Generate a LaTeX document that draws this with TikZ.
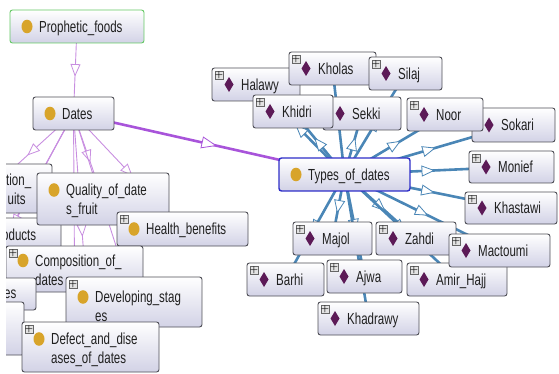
\documentclass[tikz,border=0pt]{standalone}
\usepackage{fontspec}
\newfontfamily\lblfont{Liberation Sans}[FakeStretch=0.72]
\usetikzlibrary{fit,decorations.markings}

\pgfdeclarelayer{edges}
\pgfsetlayers{edges,main}

\definecolor{boxline}{RGB}{78,78,86}
\definecolor{boxlow}{RGB}{210,210,230}
\definecolor{edgeblue}{RGB}{74,134,182}
\definecolor{edgepurple}{RGB}{168,84,218}
\definecolor{edgelilac}{RGB}{200,142,224}
\definecolor{gold}{RGB}{216,164,42}
\definecolor{plum}{RGB}{92,26,87}
\definecolor{selblue}{RGB}{46,46,200}
\definecolor{rootgreen}{RGB}{100,200,100}
\definecolor{labelink}{RGB}{32,32,32}

\tikzset{
  ontoextra/.style={},
  nodebox/.style={draw=boxline, line width=0.9pt, rounded corners=2.5pt,
    top color=white, bottom color=boxlow, inner sep=0pt, ontoextra},
  lbl/.style={anchor=base west, inner sep=0pt, text=labelink,
    font=\lblfont\fontsize{16}{19}\selectfont},
  plusbox/.style={draw=gray!80!black, fill=gray!22, minimum size=8pt,
    inner sep=0pt, font=\fontsize{9}{9}\selectfont\bfseries, text=black},
  isa/.style n args={3}{postaction={decorate},
    decoration={markings, mark=at position 0.5 with
      {\draw[draw=#1, fill=white, line width=0.8pt, line join=miter]
        (#2,0pt) -- (-#2,#3) -- (-#2,-#3) -- cycle;}}},
  blueedge/.style={draw=edgeblue, line width=2.6pt, isa={edgeblue}{6pt}{5pt}},
  thickedge/.style={draw=edgepurple, line width=2.6pt, isa={edgepurple}{7pt}{5.5pt}},
  thinedge/.style={draw=edgelilac, line width=0.9pt, isa={edgelilac}{5.5pt}{4.5pt}},
}

% icons drawn at the current icon position
\newcommand\ontocls{\fill[gold] (\ontoix,\ontoly) ellipse [x radius=5.5pt, y radius=6.8pt];}
\newcommand\ontoind{\fill[plum] (\ontoix,\ontoly-7.5) -- (\ontoix+4.5,\ontoly)
  -- (\ontoix,\ontoly+7.5) -- (\ontoix-4.5,\ontoly) -- cycle;}
\newcommand\ontoplus{\node[plusbox] at (\ontoxa+7,\ontoya+7) {+};}

% name, x1, y1, x2, y2, first-line y, icons, line 1, line 2
\newcommand\ontonode[9]{%
  \pgfmathsetmacro\ontoxa{#2}%
  \pgfmathsetmacro\ontoya{#3}%
  \pgfmathsetmacro\ontoix{#2+17}%
  \pgfmathsetmacro\ontotx{#2+29}%
  \pgfmathsetmacro\ontoly{#6}%
  \node[nodebox, fit={(#2,#3) (#4,#5)}] (#1) {};%
  #7%
  \node[lbl] at (\ontotx,\ontoly+5.7) {#8};%
  \if\relax\detokenize{#9}\relax\else\node[lbl] at (\ontotx,\ontoly+24.7) {#9};\fi
}

\begin{document}
\begin{tikzpicture}[x=1pt,y=-1pt]
\useasboundingbox (0,0) rectangle (559,374);
\clip (6,0) rectangle (559,374);

% class hierarchy
\tikzset{ontoextra/.style={draw=rootgreen}}
\ontonode{pf}{10}{10}{144}{43}{26.5}{\ontocls}{Prophetic\_foods}{}
\tikzset{ontoextra/.style={}}
\ontonode{dates}{33}{97}{114}{130}{113.5}{\ontocls}{Dates}{}

% subclasses of Dates
\ontonode{lc1}{-70}{164}{52}{213}{179.5}{}{}{}
\node[lbl] (lc1a) at (6,185.2) {tion\_};
\node[lbl] (lc1b) at (7.5,204.2) {uits};
\ontonode{lc2}{-47}{218}{61}{252}{235}{}{}{}
\node[lbl] (lc2a) at (2,240.7) {oducts};
\ontonode{qual}{37}{173}{169}{225}{190}{\ontocls}{Quality\_of\_date}{s\_fruit}
\ontonode{health}{117}{212}{248}{246}{229}{\ontoplus\ontocls}{Health\_benefits}{}
\ontonode{comp}{6}{246}{143}{292}{260.5}{\ontoplus\ontocls}{Composition\_of\_}{dates}
\ontonode{lc3}{-86}{278}{36}{310}{293}{}{}{}
\node[lbl] (lc3a) at (4,298.7) {es};
\ontonode{lc4}{-110}{302}{24}{355}{328}{}{}{}
\ontonode{dev}{66}{277}{202}{327}{297}{\ontoplus\ontocls}{Developing\_stag}{es}
\ontonode{defect}{22}{322}{159}{372}{339}{\ontoplus\ontocls}{Defect\_and\_dise}{ases\_of\_dates}

% individuals of Types_of_dates
\ontonode{halawy}{212}{68}{300}{101}{84.5}{\ontoplus\ontoind}{Halawy}{}
\ontonode{kholas}{289}{52}{376}{85}{68.5}{\ontoplus\ontoind}{Kholas}{}
\ontonode{silaj}{369}{57}{442}{90}{73.5}{\ontoplus\ontoind}{Silaj}{}
\ontonode{sekki}{323}{97}{401}{130}{113.5}{\ontoind}{Sekki}{}
\ontonode{khidri}{253}{95}{333}{128}{111.5}{\ontoplus\ontoind}{Khidri}{}
\ontonode{sokari}{472}{108}{555}{142}{125}{\ontoind}{Sokari}{}
\ontonode{noor}{407}{98}{483}{131}{114.5}{\ontoplus\ontoind}{Noor}{}
\ontonode{monief}{469}{151}{554}{183}{167}{\ontoplus\ontoind}{Monief}{}
\ontonode{khastawi}{465}{192}{557}{224}{208}{\ontoplus\ontoind}{Khastawi}{}
\ontonode{majol}{293}{222}{372}{255}{238.5}{\ontoplus\ontoind}{Majol}{}
\ontonode{zahdi}{376}{222}{456}{255}{238.5}{\ontoplus\ontoind}{Zahdi}{}
\ontonode{amir}{407}{263}{507}{296}{279.5}{\ontoplus\ontoind}{Amir\_Hajj}{}
\ontonode{mactoumi}{449}{234}{550}{267}{250.5}{\ontoplus\ontoind}{Mactoumi}{}
\ontonode{barhi}{247}{263}{324}{296}{279.5}{\ontoplus\ontoind}{Barhi}{}
\ontonode{ajwa}{327}{260}{402}{293}{276.5}{\ontoplus\ontoind}{Ajwa}{}
\ontonode{khadrawy}{318}{302}{419}{335}{318.5}{\ontoplus\ontoind}{Khadrawy}{}

% the selected class
\tikzset{ontoextra/.style={draw=selblue, line width=1.4pt}}
\ontonode{types}{279}{158}{410}{191}{174.5}{\ontocls}{Types\_of\_dates}{}
\tikzset{ontoextra/.style={}}

% connectors, kept under the boxes
\begin{pgfonlayer}{edges}
\clip (6,0) rectangle (559,374);
\draw[thinedge] (pf.center) -- (dates.center);
\foreach \c in {lc1,lc2,lc3,lc4,comp,qual,health,dev,defect}
  \draw[thinedge] (dates.center) -- (\c.center);
\foreach \c in {halawy,kholas,silaj,khidri,sekki,noor,sokari,monief,khastawi,
                majol,zahdi,mactoumi,barhi,ajwa,amir,khadrawy}
  \draw[blueedge] (types.center) -- (\c.center);
\draw[thickedge] (dates.center) -- (types.center);
\end{pgfonlayer}
\end{tikzpicture}
\end{document}
